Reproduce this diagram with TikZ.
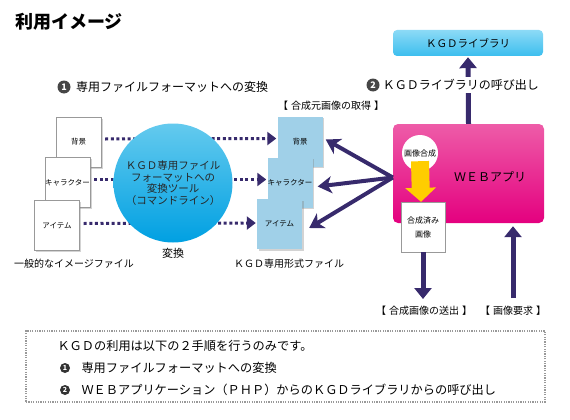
\documentclass[tikz,border=0pt]{standalone}
\usepackage{fontspec}
\setmainfont{Noto Sans CJK JP}
\usetikzlibrary{arrows.meta,shadows,positioning}

\definecolor{navy}{RGB}{55,42,108}
\definecolor{kgdblue}{RGB}{160,208,232}
\definecolor{tooltop}{RGB}{100,202,238}
\definecolor{toolbottom}{RGB}{0,160,226}
\definecolor{libtop}{RGB}{140,218,246}
\definecolor{libblue}{RGB}{60,190,238}
\definecolor{weblight}{RGB}{238,92,168}
\definecolor{webpink}{RGB}{228,0,127}
\definecolor{mixyellow}{RGB}{255,205,0}
\definecolor{markgray}{RGB}{70,70,70}

\newcommand{\kgdsize}[1]{\fontsize{#1}{#1}\selectfont}
\newcommand{\brk}[1]{【\hspace{3pt}#1\hspace{3pt}】}

\tikzset{
  imgdoc/.style={draw=black!40, fill=white, minimum width=45pt, minimum height=50pt,
    inner sep=0pt, font=\kgdsize{7.5},
    drop shadow={shadow xshift=1.5pt, shadow yshift=-1.5pt, opacity=.35}},
  kgddoc/.style={imgdoc, draw=none, fill=kgdblue},
  dotarrow/.style={navy, line width=3pt, dash pattern=on 3pt off 2.6pt,
    -{Triangle[length=9pt,width=13pt]}},
  fetch/.style={navy, line width=4pt, -{Stealth[length=14pt,width=17pt,inset=4pt]}},
  flow/.style={navy, line width=5pt, -{Triangle[length=11pt,width=17pt]}},
  numdot/.style={circle, fill=markgray, text=white, inner sep=0pt, minimum size=13pt,
    font=\bfseries\kgdsize{9}},
  smalldot/.style={numdot, fill=black!80, minimum size=10pt, font=\bfseries\kgdsize{7}},
  steptext/.style={anchor=west, font=\kgdsize{12}},
  sumtext/.style={anchor=west, font=\kgdsize{12.2}},
  lbl/.style={font=\kgdsize{10}},
}

\begin{document}
\begin{tikzpicture}[x=1pt,y=-1pt]
\useasboundingbox (0,0) rectangle (570,420);

% title
\node[anchor=west, inner sep=0pt, font=\bfseries\kgdsize{18}] (title) at (15,22) {利用イメージ};

% step 1 and step 2 headings
\node[numdot] (n1) at (64,87) {1};
\node[steptext, right=2pt of n1] (s1) {専用ファイルフォーマットへの変換};
\node[numdot] (n2) at (373,85) {2};

% general image files
\node[imgdoc] (bg) at (78.5,142) {背景};
\node[imgdoc] (ch) at (67.5,182.5) {キャラクター};
\node[imgdoc] (it) at (57,225.5) {アイテム};
\node[font=\kgdsize{10}] (genlbl) at (74,264) {一般的なイメージファイル};

% KGD files
\node[kgddoc] (kbg) at (300,141.5) {背景};
\node[kgddoc] (kch) at (290,182.5) {キャラクター};
\node[kgddoc] (kit) at (279.5,224) {アイテム};
\node[font=\kgdsize{10}] (kgdlbl) at (289,264) {ＫＧＤ専用形式ファイル};
\node[lbl] (srclbl) at (331,106) {\brk{合成元画像の取得}};

% conversion
\draw[dotarrow] ([xshift=4pt,yshift=3pt]bg.east) -- ([xshift=-1pt,yshift=3pt]kbg.west);
\draw[dotarrow] ([xshift=4pt,yshift=3pt]ch.east) -- ([xshift=-1pt,yshift=3pt]kch.west);
\draw[dotarrow] ([xshift=4pt,yshift=2pt]it.east) -- ([xshift=-1pt,yshift=1pt]kit.west);
\node[circle, minimum size=119pt, top color=tooltop, bottom color=toolbottom,
  align=center, font=\kgdsize{10.5}, text=black!85] (tool) at (173,183)
  {ＫＧＤ専用ファイル\\[1pt]フォーマットへの\\[1pt]変換ツール\\[1pt]（コマンドライン）};
\node[font=\kgdsize{11}] (convlbl) at (173,253) {変換};

% library and web app
\node[rounded corners=4pt, minimum width=150pt, minimum height=26pt,
  top color=libtop, bottom color=libblue, font=\kgdsize{10.5}] (lib) at (468,43) {ＫＧＤライブラリ};
\node[rounded corners=5pt, minimum width=151pt, minimum height=99pt,
  top color=weblight, middle color=weblight!60!webpink, bottom color=webpink] (web) at (468.5,173.5) {};
\node[font=\kgdsize{12}] (webtxt) at (490,177) {ＷＥＢアプリ};
\node[circle, fill=white, minimum size=36pt, inner sep=0pt, font=\kgdsize{8}] (comp) at (420,153) {画像合成};
\node[draw=black!40, fill=white, minimum width=44pt, minimum height=50pt, inner sep=0pt,
  align=center, font=\kgdsize{8}] (done) at (423,227) {合成済み\\[6pt]画像};
\draw[mixyellow, line width=18pt, -{Triangle[length=14pt,width=30pt]}]
  ([yshift=10pt]comp.south) -- ([xshift=-2pt]done.north);

\draw[flow] (web.north) -- ([yshift=-1pt]lib.south);
\node[steptext, fill=white, inner sep=2pt, right=1pt of n2] (s2) {ＫＧＤライブラリの呼び出し};
\draw[fetch] ([yshift=-4pt]web.west) -- ([xshift=3pt,yshift=2pt]kbg.east);
\draw[fetch] ([yshift=-4pt]web.west) -- ([xshift=5pt,yshift=-4pt]kch.east);
\draw[fetch] ([yshift=-4pt]web.west) -- ([xshift=7pt,yshift=-4pt]kit.east);

% send and request
\coordinate (sendend) at (423,299);
\coordinate (reqstart) at (513,298);
\draw[flow] (done.south) -- (sendend);
\draw[flow] (reqstart) -- ([yshift=-3pt]web.south -| reqstart);
\node[lbl] (sendlbl) at (424,311) {\brk{合成画像の送出}};
\node[lbl] (reqlbl) at (513,311) {\brk{画像要求}};

% summary
\node[draw=black!40, line width=1.6pt, dash pattern=on 1.2pt off 1.2pt,
  minimum width=519pt, minimum height=71pt] (note) at (285.5,366.5) {};
\node[sumtext] (sum) at (54,346) {ＫＧＤの利用は以下の２手順を行うのみです。};
\node[smalldot] (m1) at (65,368) {1};
\node[sumtext] (sum1) at (78,368) {専用ファイルフォーマットへの変換};
\node[smalldot] (m2) at (65,390) {2};
\node[sumtext] (sum2) at (78,390) {ＷＥＢアプリケーション（ＰＨＰ）からのＫＧＤライブラリからの呼び出し};
\end{tikzpicture}
\end{document}
